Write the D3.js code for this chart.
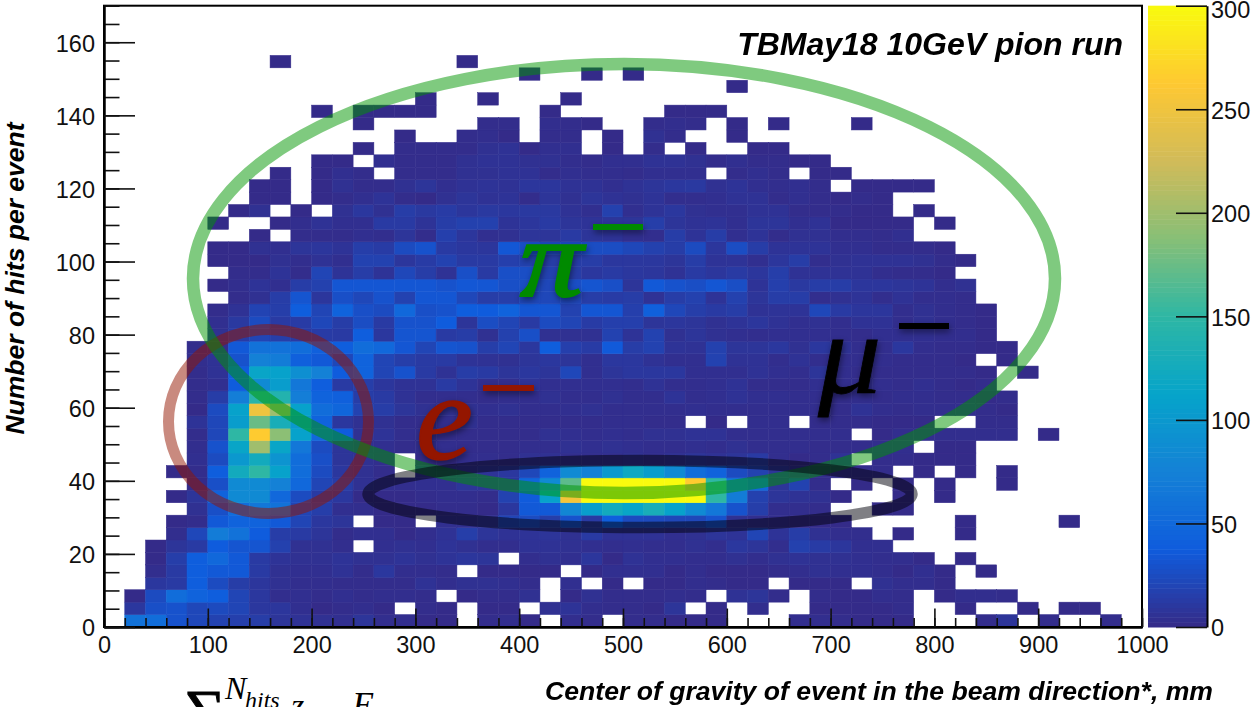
<!DOCTYPE html>
<html>
<head>
<meta charset="utf-8">
<script src="https://cdn.jsdelivr.net/npm/d3@7"></script>
<style>
html,body{margin:0;padding:0;background:#fff;overflow:hidden}
svg{display:block}
text{font-family:"Liberation Sans",Arial,sans-serif;fill:#000}
.tick text{font-size:23.5px;font-family:"Liberation Sans",Arial,sans-serif;fill:#111}
.tick line{stroke:#111;stroke-width:1.6px}
.domain{stroke:#000;stroke-width:2px}
.ttl{font-weight:bold;font-style:italic}
.sym{font-family:"Liberation Serif",serif;font-style:italic}
.shadow{filter:drop-shadow(1px 3px 3px rgba(0,0,0,.45))}
</style>
</head>
<body>
<svg id="c" width="1256" height="707"></svg>
<script>
const xMajorTicks=[0,100,200,300,400,500,600,700,800,900,1000];
const yMajorTicks=[0,20,40,60,80,100,120,140,160];
const zTicks=[0,50,100,150,200,250,300];
const paletteStops=[0,37.5,75,112.5,150,187.5,225,262.5,300];
const paletteColours=["#352a87","#0f5cdd","#1481d6","#06a4ca","#2eb7a4","#87bf77","#d1bb59","#fec832","#f9fb0e"];
const titleText="TBMay18 10GeV pion run";
const xTitle="Center of gravity of event in the beam direction*, mm";
const yTitle="Number of hits per event";

const row00=[0,60,55,30,22,18,16,14,8,6,5,4,8,3,3,1,1,0,2,3,1,0,3,2,0,2,2,1,1,1,0,0,0,3,3,2,1,1,1,0,0,0,2,8,0,2,0,0,2];
const row01=[0,10,28,30,22,24,20,10,9,4,1,2,3,1,0,2,1,0,1,1,0,5,7,3,2,2,1,8,0,1,0,3,0,0,1,1,1,1,2,0,0,1,0,0,1,0,1,1];
const row02=[0,1,25,55,45,40,20,10,3,4,2,4,2,3,3,2,0,1,2,2,5,0,1,5,2,2,2,3,2,0,6,8,2,0,2,1,1,3,2,0,1,3,3,2];
const row03=[0,0,10,12,40,25,14,9,5,3,3,2,2,2,2,6,3,5,5,4,2,0,4,0,1,0,1,1,3,2,1,1,0,1,1,1,0,5,3,3,1];
const row04=[0,0,3,12,40,35,35,12,5,4,4,6,2,10,3,3,2,0,1,1,1,1,0,1,4,4,4,1,3,1,1,1,2,3,5,4,4,3,1,4,1,0,1];
const row05=[0,0,1,15,40,50,35,12,7,5,5,7,5,5,7,5,7,9,8,0,3,5,4,9,1,6,4,4,3,3,5,3,5,6,5,5,4,3,3,1,0,1];
const row06=[0,0,1,8,12,38,32,32,17,5,5,3,0,4,5,4,7,5,3,3,6,6,5,4,3,4,3,3,5,3,10,8,3,17,13,9,4,4];
const row07=[0,0,0,3,22,70,60,38,14,12,8,2,4,4,1,3,6,15,8,6,7,8,5,12,6,6,6,4,5,8,7,20,7,14,5,3,3,0,1,0,0,1];
const row08=[0,0,0,1,2,35,45,45,35,20,10,8,0,1,1,0,4,4,6,20,25,15,30,12,40,25,24,22,22,30,5,3,2,1,1,1,0,0,0,0,0,1,0,0,0,0,1];
const row09=[0,0,0,0,5,28,55,65,60,20,15,4,3,1,1,1,2,2,1,10,35,35,80,105,125,115,130,110,85,65,30,15,3,3,2,0,0,1,1];
const row10=[0,0,0,1,8,45,85,85,50,25,12,10,1,1,1,2,3,3,2,18,37,110,255,300,300,300,300,300,300,150,70,17,8,6,5,1,0,0,1,0,1];
const row11=[0,0,0,0,1,28,85,85,75,50,20,14,5,3,3,4,4,8,8,9,48,85,170,300,300,300,300,300,265,150,65,50,8,18,2,0,1,0,1,0,1,0,0,1];
const row12=[0,0,0,1,2,40,125,150,110,55,25,10,5,2,0,4,5,5,7,10,22,45,85,75,100,120,105,85,55,45,25,18,8,4,2,2,2,2,0,1,0,1,0,1];
const row13=[0,0,0,0,4,25,100,125,95,55,28,8,5,3,0,1,1,3,3,2,5,5,3,3,3,5,3,5,8,6,8,12,3,1,2,6,0,2,2,1,1,1];
const row14=[0,0,0,0,3,30,115,200,115,65,25,8,4,4,2,3,3,2,2,2,3,3,5,4,5,4,3,3,4,3,5,3,3,3,2,2,2,3,3,0,1,1];
const row15=[0,0,0,0,2,22,150,265,190,110,50,38,5,7,3,3,2,2,2,2,2,5,4,3,4,3,5,5,6,6,3,3,3,3,3,3,0,1,3,3,3,3,3,3,0,1];
const row16=[0,0,0,0,7,22,105,175,130,100,45,10,5,5,2,2,3,5,2,2,2,2,2,2,3,3,2,2,0,1,0,3,3,0,2,2,2,1,1,1,0,0,2,2];
const row17=[0,0,0,0,1,25,110,250,200,110,55,48,18,14,8,5,5,5,4,5,3,3,4,5,3,3,3,3,4,3,3,3,3,3,3,2,6,3,2,3,3,3,2,1];
const row18=[0,0,0,0,2,14,72,145,140,72,45,42,14,12,6,3,3,3,2,3,3,5,3,3,5,3,3,7,3,4,6,4,4,3,3,2,3,2,3,3,2,2,1,2];
const row19=[0,0,0,0,2,4,38,85,105,65,40,12,15,9,6,6,12,7,3,3,7,4,4,4,4,3,6,3,3,4,6,2,2,2,4,3,3,3,2,4,2,1,2];
const row20=[0,0,0,0,2,6,38,115,110,90,75,38,45,20,30,12,6,14,12,8,10,8,22,4,8,10,10,10,4,4,4,6,4,3,8,3,2,2,2,2,2,2,1,0,1];
const row21=[0,0,0,0,3,6,30,75,70,42,35,22,45,20,15,12,12,7,6,5,8,10,8,4,10,10,6,4,4,18,6,6,3,6,3,3,3,3,2,2,2,1,0,1];
const row22=[0,0,0,0,2,2,35,60,60,55,42,40,55,50,33,20,32,30,15,20,10,40,16,13,36,14,18,7,6,17,8,8,10,5,10,6,3,3,10,3,2,2,1,1];
const row23=[0,0,0,0,0,5,13,20,15,12,13,12,40,10,32,32,12,14,5,17,28,5,5,5,18,7,18,5,8,5,4,3,4,4,4,3,2,4,4,4,3,3,1];
const row24=[0,0,0,0,0,4,11,25,12,13,22,14,26,12,30,30,38,8,26,20,12,25,20,13,16,16,8,9,8,5,7,9,6,4,5,3,6,6,3,5,3,2,1];
const row25=[0,0,0,0,0,2,6,19,15,40,20,45,28,25,50,28,30,40,38,45,33,33,18,33,33,16,42,22,15,12,14,6,7,7,22,12,9,9,3,5,3,2,1];
const row26=[0,0,0,0,0,0,2,5,14,32,9,28,22,30,18,33,33,22,14,15,22,22,21,14,13,14,6,14,17,7,17,8,14,14,3,5,7,3,6,3,3,2];
const row27=[0,0,0,0,0,1,3,7,4,14,17,33,33,33,33,33,30,34,33,28,27,22,27,32,28,8,35,30,27,33,27,7,16,11,14,14,9,9,8,7,3,5];
const row28=[0,0,0,0,0,0,2,2,7,2,20,7,14,7,22,14,6,28,12,28,27,18,14,10,12,10,9,6,12,9,12,9,15,6,6,6,6,3,2,2,1];
const row29=[0,0,0,0,0,1,1,1,5,3,6,4,18,18,9,13,18,12,12,16,18,14,14,14,10,10,10,8,14,7,7,4,9,14,3,5,6,6,6,5,2,1];
const row30=[0,0,0,0,0,1,1,5,4,8,9,7,15,13,25,30,12,10,9,34,28,24,25,26,26,22,17,14,25,9,26,14,7,7,7,4,4,2,2,2,1];
const row31=[0,0,0,0,0,0,0,1,0,2,2,2,4,3,8,2,16,9,4,5,8,8,12,8,7,4,3,14,7,14,4,7,2,5,5,3,3,2,4];
const row32=[0,0,0,0,0,1,0,0,1,3,6,4,4,12,12,7,14,17,17,7,9,12,8,7,8,8,15,8,6,7,4,8,8,4,6,1,1,1,1,0,1];
const row33=[0,0,0,0,0,0,1,5,0,1,0,5,10,5,14,11,13,9,11,10,11,11,6,4,17,4,7,10,5,4,4,6,6,2,2,2,1,1,0,1];
const row34=[0,0,0,0,0,0,0,1,1,0,1,2,4,7,2,1,5,8,6,7,2,8,5,8,6,5,7,3,3,4,6,6,2,4,2,1,2,1];
const row35=[0,0,0,0,0,0,0,1,1,0,1,5,2,2,5,8,4,6,7,6,9,9,6,6,4,6,8,10,11,5,7,4,3,4,2,0,1,1,1,1];
const row36=[0,0,0,0,0,0,0,0,1,0,1,4,2,0,2,2,2,5,5,6,6,2,4,3,3,2,4,4,4,0,2,4,2,0,1,1];
const row37=[0,0,0,0,0,0,0,0,0,0,1,1,0,4,2,2,2,5,6,6,5,5,3,2,4,4,6,6,5,2,4,2,2,1,1];
const row38=[0,0,0,0,0,0,0,0,0,0,0,0,1,0,2,2,2,2,5,6,1,4,4,0,1,0,2,0,1,0,0,1,1];
const row39=[0,0,0,0,0,0,0,0,0,0,0,0,0,0,1,0,0,2,3,1,0,2,2,0,1,0,5,2,0,0,1];
const row40=[0,0,0,0,0,0,0,0,0,0,0,0,1,0,0,0,0,0,2,2,0,3,2,1,0,0,2,3,2,0,1,0,1,0,0,0,1];
const row41=[0,0,0,0,0,0,0,0,0,0,1,0,1,1,1,1,0,0,0,0,0,1,0,0,0,0,0,1,1,1];
const row42=[0,0,0,0,0,0,0,0,0,0,0,0,0,0,0,1,0,0,1,0,0,0,1];
const row43=[0,0,0,0,0,0,0,0,0,0,0,0,0,0,0,0,0,0,0,0,0,0,0,0,0,0,0,0,0,0,1];
const row44=[0,0,0,0,0,0,0,0,0,0,0,0,0,0,0,0,0,0,0,0,1,0,0,1,0,1];
const row45=[0,0,0,0,0,0,0,0,1,0,0,0,0,0,0,0,0,1];
const hitRows=[row00,row01,row02,row03,row04,row05,row06,row07,row08,row09,row10,row11,row12,row13,row14,row15,row16,row17,row18,row19,row20,row21,row22,row23,row24,row25,row26,row27,row28,row29,row30,row31,row32,row33,row34,row35,row36,row37,row38,row39,row40,row41,row42,row43,row44,row45];

const xBin=20, yBin=3.4;
const svg=d3.select("#c");
const x=d3.scaleLinear().domain([0,1000]).range([104,1142]);
const y=d3.scaleLinear().domain([0,170]).range([627,5.7]);
const z=d3.scaleLinear().domain([0,300]).range([627,5.7]);
const colour=d3.scaleLinear().domain(paletteStops).range(paletteColours);

const cells=hitRows.flatMap((row,r)=>row.map((v,c)=>({r,c,v}))).filter(d=>d.v>0);
svg.append("g").selectAll("rect").data(cells).join("rect")
  .attr("x",d=>x(d.c*xBin)).attr("y",d=>y((d.r+1)*yBin))
  .attr("width",x(xBin)-x(0)).attr("height",y(0)-y(yBin))
  .attr("fill",d=>colour(d.v)).attr("stroke",d=>colour(d.v)).attr("stroke-width",0.5);

// colour bar
const bandStep=300/128;
svg.append("g").selectAll("rect").data(d3.range(0,300,bandStep)).join("rect")
  .attr("x",1148).attr("width",59)
  .attr("y",d=>z(d+bandStep)).attr("height",z(0)-z(bandStep)+0.5)
  .attr("fill",d=>colour(d+bandStep/2));
const zAxis=svg.append("g").attr("transform","translate(1207,0)")
  .call(d3.axisRight(z).tickValues(zTicks).tickFormat(d3.format("d")).tickSize(-31).tickSizeOuter(0).tickPadding(4));
zAxis.selectAll("text").attr("dy","0.38em").attr("x",4);
zAxis.selectAll(".tick text").filter(d=>d===300).attr("y",2.5);

// frame
svg.append("rect").attr("x",104).attr("y",5.7).attr("width",1038).attr("height",621.3)
  .attr("fill","none").attr("stroke","#000").attr("stroke-width",2);

// axes
const xMinor=d3.range(0,1001,20), yMinor=d3.range(0,171,5);
svg.append("g").attr("transform","translate(0,627)")
  .call(d3.axisBottom(x).tickValues(xMinor).tickFormat("").tickSize(-9).tickSizeOuter(0));
svg.append("g").attr("transform","translate(104,0)")
  .call(d3.axisLeft(y).tickValues(yMinor).tickFormat("").tickSize(-15.5).tickSizeOuter(0));
svg.append("g").attr("transform","translate(0,627)")
  .call(d3.axisBottom(x).tickValues(xMajorTicks).tickFormat(d3.format("d")).tickSize(-18.5).tickSizeOuter(0).tickPadding(9));
svg.append("g").attr("transform","translate(104,0)")
  .call(d3.axisLeft(y).tickValues(yMajorTicks).tickFormat(d3.format("d")).tickSize(-31).tickSizeOuter(0).tickPadding(9))
  .selectAll("text").attr("dy","0.38em");

// overlay ellipses
const ovals=[
  {cx:268.5,cy:421.5,rx:100,ry:92,sw:11,col:"rgb(148,22,0)"},
  {cx:624,cy:278.5,rx:431,ry:214.5,sw:12.5,col:"rgb(0,150,0)"},
  {cx:640,cy:494,rx:272,ry:33.5,sw:11.5,col:"rgb(0,0,10)"}
];
svg.append("g").selectAll("ellipse").data(ovals).join("ellipse")
  .attr("cx",d=>d.cx).attr("cy",d=>d.cy).attr("rx",d=>d.rx).attr("ry",d=>d.ry)
  .attr("fill","none").attr("stroke",d=>d.col).attr("stroke-width",d=>d.sw).attr("stroke-opacity",.5);

// particle labels
const particles=[
  {t:"e",px:416,py:459,fs:122,sx:1.05,sw:1.6,col:"#941600",mx:483,my:385,mw:51},
  {t:"π",px:520,py:296,fs:111,sx:1.13,sw:2.2,col:"#008a00",mx:593,my:224,mw:50},
  {t:"μ",px:818,py:393,fs:115,sx:1.1,sw:0.8,col:"#000",mx:899,my:323,mw:50}
];
const pg=svg.append("g").attr("class","shadow");
pg.selectAll("text").data(particles).join("text").attr("class","sym")
  .attr("transform",d=>`translate(${d.px},${d.py}) scale(${d.sx},1)`)
  .attr("font-size",d=>d.fs).attr("stroke",d=>d.col).attr("stroke-width",d=>d.sw)
  .style("fill",d=>d.col).text(d=>d.t);
pg.selectAll("rect").data(particles).join("rect")
  .attr("x",d=>d.mx).attr("y",d=>d.my).attr("width",d=>d.mw).attr("height",6).attr("fill",d=>d.col);

// titles
svg.append("text").attr("class","ttl").attr("x",1123).attr("y",55).attr("text-anchor","end").attr("font-size",32).text(titleText);
svg.append("text").attr("class","ttl").attr("x",1213).attr("y",700).attr("text-anchor","end").attr("font-size",26.6).text(xTitle);
svg.append("text").attr("class","ttl").attr("transform","translate(24,278.5) rotate(-90)").attr("text-anchor","middle").attr("font-size",26.5).text(yTitle);

// formula cut off by the page edge
const sf=svg.append("g");
sf.append("text").attr("x",184).attr("y",730).attr("font-size",58).style("font-family","Liberation Serif,serif").attr("stroke","#000").attr("stroke-width",1).text("∑");
sf.append("text").attr("x",225).attr("y",699).attr("font-size",32).style("font-family","Liberation Serif,serif").style("font-style","italic").text("N");
sf.append("text").attr("x",245).attr("y",708).attr("font-size",24).style("font-family","Liberation Serif,serif").style("font-style","italic").text("hits");
sf.append("text").attr("x",291).attr("y",717).attr("font-size",34).style("font-family","Liberation Serif,serif").style("font-style","italic").text("z");
sf.append("text").attr("x",352).attr("y",717).attr("font-size",36).style("font-family","Liberation Serif,serif").style("font-style","italic").text("E");
</script>
</body>
</html>
